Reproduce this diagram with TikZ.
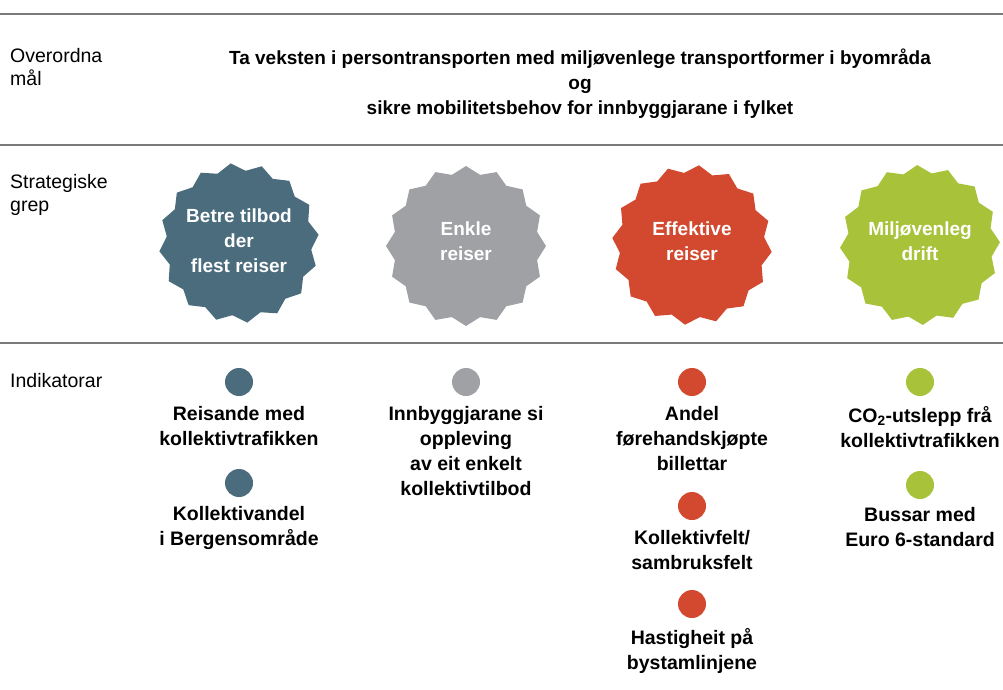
\documentclass[tikz,border=0pt]{standalone}
\usepackage{fontspec}
\setmainfont{Liberation Sans}
\definecolor{cblue}{HTML}{4A6C7D}
\definecolor{cgray}{HTML}{A0A1A4}
\definecolor{cred}{HTML}{D2492F}
\definecolor{cgreen}{HTML}{A8C23A}
\definecolor{cline}{HTML}{7A7A7A}
\begin{document}
\begin{tikzpicture}[x=1pt,y=-1pt,
  rule/.style={draw=cline,line width=1.6pt},
  sidelabel/.style={anchor=north west,align=left,inner sep=0pt,font=\fontsize{19.5}{23}\selectfont},
  headtxt/.style={align=center,inner sep=0pt,font=\bfseries\fontsize{19}{25}\selectfont},
  badgetxt/.style={align=center,text=white,inner sep=0pt,font=\bfseries\fontsize{19}{25}\selectfont},
  ind/.style={anchor=north,align=center,inner sep=0pt,font=\bfseries\fontsize{19.5}{25}\selectfont},
  dotc/.style={circle,minimum size=28pt,inner sep=0pt}]
\useasboundingbox (0,0) rectangle (1003,690);
\draw[rule] (0,14) -- (1003,14);
\draw[rule] (0,145) -- (1003,145);
\draw[rule] (0,343) -- (1003,343);
\node[sidelabel] (l1) at (10,48) {Overordna\\mål};
\node[sidelabel] (l2) at (10,174) {Strategiske\\grep};
\node[sidelabel] (l3) at (10,373) {Indikatorar};
\node[headtxt] (head) at (580,84) {Ta veksten i persontransporten med miljøvenlege transportformer i byområda\\og\\sikre mobilitetsbehov for innbyggjarane i fylket};
% badges
\foreach \cx/\cy/\col/\rot in {239/243/cblue/84,466/246/cgray/90,692/245/cred/95,920/245/cgreen/88}{
  \fill[\col,shift={(\cx,\cy)}] plot[samples at={0,...,31}] ({\rot+\x*11.25}:{80-7.5*mod(\x,2)}) -- cycle;
}
\node[badgetxt] (b1) at (239,241) {Betre tilbod\\der\\flest reiser};
\node[badgetxt] (b2) at (466,241) {Enkle\\reiser};
\node[badgetxt] (b3) at (692,241) {Effektive\\reiser};
\node[badgetxt] (b4) at (920,241) {Miljøvenleg\\drift};
% indicators
\node[dotc,fill=cblue] (d1) at (239,382) {};
\node[ind] (t1) at (239,406) {Reisande med\\kollektivtrafikken};
\node[dotc,fill=cblue] (d2) at (239,483) {};
\node[ind] (t2) at (239,506) {Kollektivandel\\i Bergensområde};
\node[dotc,fill=cgray] (d3) at (466,382) {};
\node[ind] (t3) at (466,406) {Innbyggjarane si\\oppleving\\av eit enkelt\\kollektivtilbod};
\node[dotc,fill=cred] (d4) at (692,382) {};
\node[ind] (t4) at (692,406) {Andel\\førehandskjøpte\\billettar};
\node[dotc,fill=cred] (d5) at (692,506) {};
\node[ind] (t5) at (692,530) {Kollektivfelt/\\sambruksfelt};
\node[dotc,fill=cred] (d6) at (692,604) {};
\node[ind] (t6) at (692,628) {Hastigheit på\\bystamlinjene};
\node[dotc,fill=cgreen] (d7) at (920,382) {};
\node[ind] (t7) at (920,406) {CO\textsubscript{2}-utslepp frå\\kollektivtrafikken};
\node[dotc,fill=cgreen] (d8) at (920,485) {};
\node[ind] (t8) at (920,507) {Bussar med\\Euro 6-standard};
\end{tikzpicture}
\end{document}
